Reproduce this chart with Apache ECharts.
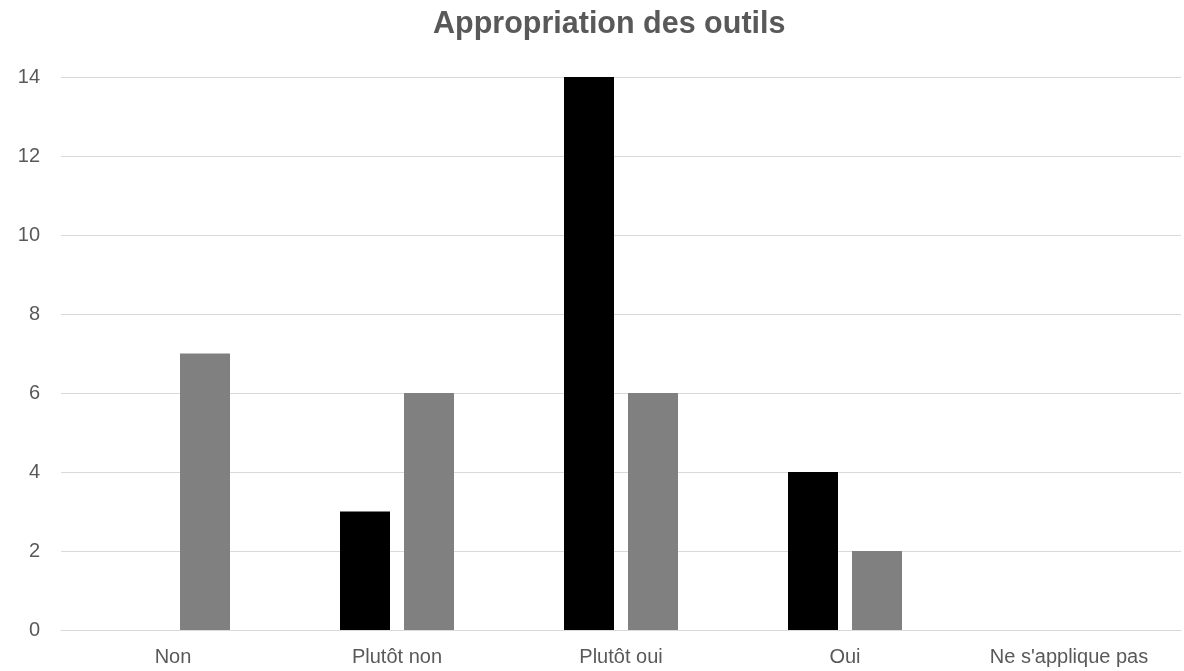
<!DOCTYPE html>
<html>
<head>
<meta charset="utf-8">
<script src="https://cdn.jsdelivr.net/npm/echarts@6/dist/echarts.min.js"></script>
<style>html,body{margin:0;padding:0;background:#fff}#c{width:1184px;height:671px}</style>
</head>
<body>
<div id="c"></div>
<script>
const title = "Appropriation des outils";
const categories = ["Non", "Plutôt non", "Plutôt oui", "Oui", "Ne s'applique pas"];
const seriesBlack = [0, 3, 14, 4, 0];
const seriesGray = [7, 6, 6, 2, 0];
const yMin = 0, yMax = 14, yInterval = 2;

const chart = echarts.init(document.getElementById('c'), null, {renderer: 'canvas'});
const labelFont = "'Liberation Sans', Arial, sans-serif";
chart.setOption({
  animation: false,
  backgroundColor: '#ffffff',
  title: {
    text: title,
    left: 428,
    top: 4,
    textStyle: {
      fontFamily: labelFont,
      fontWeight: 'bold',
      fontSize: 30.5,
      color: '#595959'
    }
  },
  grid: {left: 61, right: 3, top: 77, bottom: 41, containLabel: false},
  xAxis: {
    type: 'category',
    data: categories,
    axisLine: {show: true, lineStyle: {color: '#d9d9d9', width: 1}},
    axisTick: {show: false},
    axisLabel: {color: '#595959', fontSize: 20, fontFamily: labelFont, margin: 17}
  },
  yAxis: {
    type: 'value',
    min: yMin, max: yMax, interval: yInterval,
    axisLine: {show: false},
    axisTick: {show: false},
    splitLine: {lineStyle: {color: '#d9d9d9', width: 1}},
    axisLabel: {color: '#595959', fontSize: 20, fontFamily: labelFont, margin: 21}
  },
  series: [
    {type: 'bar', name: 'A', data: seriesBlack, barWidth: 50, barGap: '28%',
     itemStyle: {color: '#000000'}},
    {type: 'bar', name: 'B', data: seriesGray, barWidth: 50,
     itemStyle: {color: '#808080'}}
  ]
});
</script>
</body>
</html>
